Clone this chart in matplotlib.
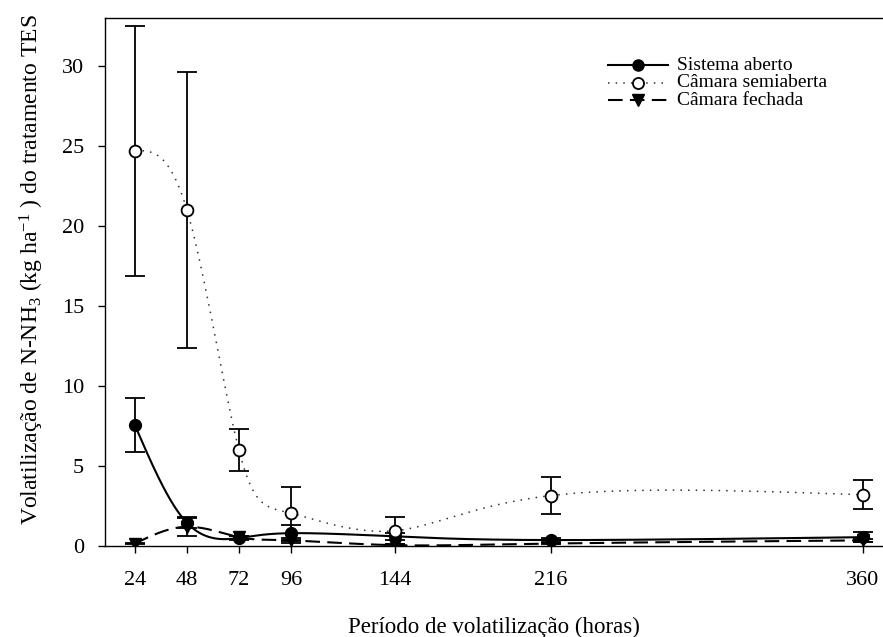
import matplotlib
matplotlib.use("Agg")
import matplotlib.pyplot as plt
import numpy as np
from matplotlib.lines import Line2D

hours = [24, 48, 72, 96, 144, 216, 360]

aberto = [7.55, 1.45, 0.5, 0.8, 0.6, 0.37, 0.55]
aberto_err = [1.7, 0.35, 0.15, 0.5, 0.2, 0.15, 0.3]

semiaberta = [24.7, 21.0, 6.0, 2.05, 0.95, 3.15, 3.2]
semiaberta_err = [7.8, 8.6, 1.3, 1.65, 0.85, 1.15, 0.9]

fechada = [0.15, 1.2, 0.55, 0.35, 0.05, 0.15, 0.35]
fechada_err = [0.05, 0.55, 0.1, 0.15, 0.05, 0.05, 0.1]

xticks = [24, 48, 72, 96, 144, 216, 360]
labels = ["Sistema aberto", "Câmara semiaberta", "Câmara fechada"]


def natural_coeffs(t, y):
    k = len(t)
    h = np.diff(t)
    A = np.zeros((k, k))
    b = np.zeros(k)
    A[0, 0] = A[-1, -1] = 1
    for i in range(1, k - 1):
        A[i, i - 1] = h[i - 1]
        A[i, i] = 2 * (h[i - 1] + h[i])
        A[i, i + 1] = h[i]
        b[i] = 3 * ((y[i + 1] - y[i]) / h[i] - (y[i] - y[i - 1]) / h[i - 1])
    return np.linalg.solve(A, b)


def spline_eval(t, y, ts):
    c = natural_coeffs(t, y)
    h = np.diff(t)
    idx = np.clip(np.searchsorted(t, ts) - 1, 0, len(t) - 2)
    dt = ts - t[idx]
    hi = h[idx]
    bi = (y[idx + 1] - y[idx]) / hi - hi * (2 * c[idx] + c[idx + 1]) / 3
    di = (c[idx + 1] - c[idx]) / (3 * hi)
    return y[idx] + bi * dt + c[idx] * dt ** 2 + di * dt ** 3


def smooth_curve(x, y, n=600):
    # parametric natural cubic spline, one parameter step per point
    x = np.asarray(x, float)
    y = np.asarray(y, float)
    t = np.arange(len(x), dtype=float)
    ts = np.linspace(0, t[-1], n)
    return spline_eval(t, x, ts), spline_eval(t, y, ts)


plt.rcParams["font.family"] = "Liberation Serif"
plt.rcParams["mathtext.fontset"] = "custom"
plt.rcParams["mathtext.rm"] = "Liberation Serif"
plt.rcParams["mathtext.it"] = "Liberation Serif:italic"

fig = plt.figure(figsize=(8.83, 6.37), dpi=100)
ax = fig.add_axes([0.1189, 0.1429, 0.8811, 0.829])

dotted = (0, (1, 4))
dashed = (0, (7, 3.5))
err_kw = dict(fmt="none", ecolor="black", elinewidth=1.3, capsize=7, capthick=1.3)

# Câmara fechada
xs, ys = smooth_curve(hours, fechada)
ax.plot(xs, ys, color="black", lw=1.5, ls=dashed, zorder=2)
ax.errorbar(hours, fechada, yerr=fechada_err, zorder=3, **err_kw)
ax.plot(hours, fechada, ls="none", marker="v", ms=8.5, color="black", zorder=4)

# Sistema aberto
xs, ys = smooth_curve(hours, aberto)
ax.plot(xs, ys, color="black", lw=1.5, zorder=2)
ax.errorbar(hours, aberto, yerr=aberto_err, zorder=3, **err_kw)
ax.plot(hours, aberto, ls="none", marker="o", ms=8.5, color="black", zorder=4)

# Câmara semiaberta
xs, ys = smooth_curve(hours, semiaberta)
ax.plot(xs, ys, color="#333333", lw=1.1, ls=dotted, zorder=2)
ax.errorbar(hours, semiaberta, yerr=semiaberta_err, zorder=5, **err_kw)
ax.plot(hours, semiaberta, ls="none", marker="o", ms=8.5, mfc="white",
        mec="black", mew=1.3, zorder=6)

ax.set_xlim(10.2, 369.3)
ax.set_ylim(0, 33)
ax.set_xticks(xticks)
ax.set_yticks(np.arange(0, 31, 5))
ax.tick_params(direction="out", length=5, width=1, labelsize=16)
ax.tick_params(axis="x", pad=13)
ax.tick_params(axis="y", pad=10)
ax.spines["right"].set_visible(False)
for s in ["left", "bottom", "top"]:
    ax.spines[s].set_linewidth(1)

ax.set_xlabel("Período de volatilização (horas)", fontsize=16.5)
ax.xaxis.set_label_coords(0.5, -0.135)
ax.set_ylabel("Volatilização de N-NH$_3$ (kg ha$^{-1}$ ) do tratamento TES",
              fontsize=17)
ax.yaxis.set_label_coords(-0.076, 0.523)

# legend drawn by hand so the rows sit close together
handles = [
    dict(color="black", lw=1.5, marker="o", ms=8),
    dict(color="#333333", lw=1.1, ls=dotted, marker="o", ms=8,
         mfc="white", mec="black", mew=1.3),
    dict(color="black", lw=1.5, ls=dashed, marker="v", ms=8),
]
W, H = 883, 637
for i, (lab, kw) in enumerate(zip(labels, handles)):
    yp = 1 - (65 + 17.7 * i) / H
    fig.add_artist(Line2D([608 / W, 668 / W], [yp, yp], transform=fig.transFigure,
                          markevery=[], **kw))
    fig.add_artist(Line2D([638 / W], [yp], transform=fig.transFigure,
                          **{k: v for k, v in kw.items() if k not in ("ls", "lw")},
                          ls="none"))
    fig.text(677 / W, yp, lab, fontsize=14, va="center", ha="left")

fig.savefig("out.png", dpi=100)
